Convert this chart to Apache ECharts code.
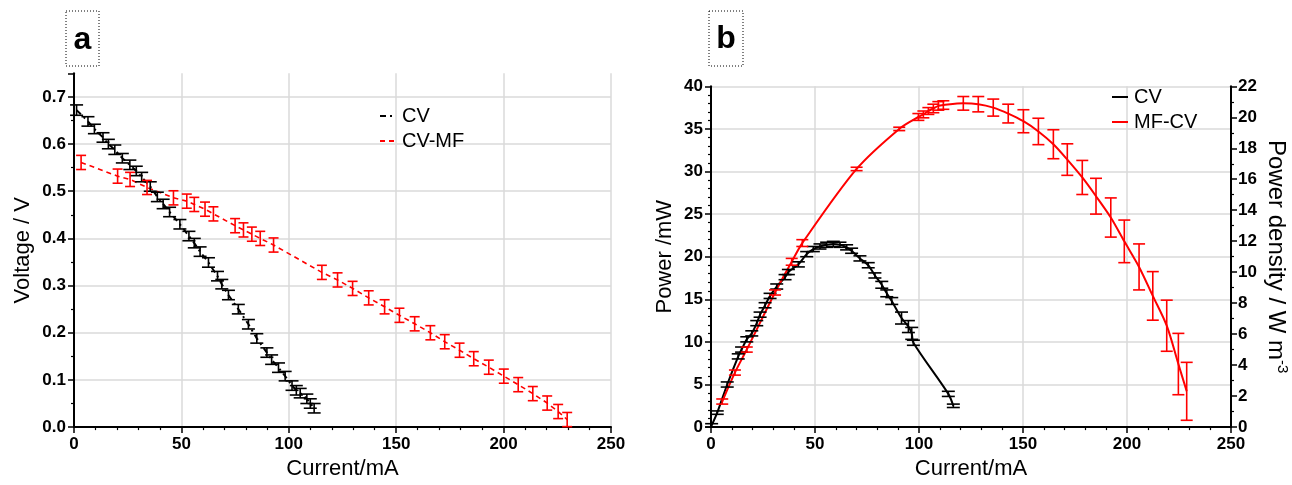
<!DOCTYPE html>
<html>
<head>
<meta charset="utf-8">
<script src="https://cdn.jsdelivr.net/npm/echarts@6/dist/echarts.min.js"></script>
<style>
  html, body { margin: 0; padding: 0; background: #fff; }
  #chart { width: 1292px; height: 485px; }
</style>
</head>
<body>
<div id="chart"></div>
<script>
// ---------- Panel a: Voltage vs Current ----------
const cvA_I = [1.2, 6.5, 9.5, 13.5, 16, 19, 22.5, 26, 29, 31.5, 35.5, 38.8, 41.5, 44.5, 49.3, 53.5, 56, 58.7, 62.6, 66.8, 68.8, 71.9, 76.5, 81.2, 85.1, 89.8, 92, 95.2, 98.3, 101.5, 103.5, 105.3, 108.4, 110, 111.8];
const cvA_V = [0.672, 0.648, 0.632, 0.614, 0.600, 0.588, 0.570, 0.556, 0.543, 0.530, 0.510, 0.488, 0.473, 0.456, 0.430, 0.405, 0.390, 0.372, 0.349, 0.320, 0.303, 0.280, 0.250, 0.218, 0.188, 0.158, 0.143, 0.126, 0.108, 0.088, 0.078, 0.072, 0.060, 0.050, 0.040];
const cvA_err = [0.011, 0.01, 0.01, 0.01, 0.01, 0.01, 0.01, 0.01, 0.01, 0.01, 0.01, 0.01, 0.01, 0.01, 0.01, 0.01, 0.01, 0.01, 0.01, 0.01, 0.01, 0.01, 0.01, 0.01, 0.01, 0.01, 0.01, 0.01, 0.01, 0.01, 0.01, 0.01, 0.01, 0.01, 0.01];

const mfA_I = [3.3, 20.3, 26.1, 34, 46.3, 52.5, 56, 61, 64.9, 75, 78.9, 82.8, 86.7, 92.9, 115.4, 122.7, 129.7, 137.2, 144.6, 151.5, 158.6, 165.9, 172.6, 179.5, 186.1, 193.1, 200.1, 206.8, 213.6, 220.3, 225.4, 229.6];
const mfA_V = [0.561, 0.532, 0.525, 0.508, 0.486, 0.479, 0.472, 0.462, 0.452, 0.427, 0.418, 0.409, 0.400, 0.386, 0.328, 0.312, 0.294, 0.274, 0.255, 0.237, 0.219, 0.200, 0.181, 0.163, 0.145, 0.127, 0.108, 0.090, 0.071, 0.051, 0.033, 0.016];
const mfA_err = [0.015, 0.015, 0.015, 0.015, 0.015, 0.015, 0.015, 0.015, 0.015, 0.015, 0.015, 0.015, 0.015, 0.015, 0.015, 0.015, 0.015, 0.015, 0.015, 0.015, 0.015, 0.015, 0.015, 0.015, 0.015, 0.015, 0.015, 0.015, 0.015, 0.015, 0.015, 0.015];

// ---------- Panel b: Power vs Current ----------
const cvB_I = [0.3, 3, 7.8, 13.1, 14.7, 17.2, 19.6, 22, 23.6, 26, 28.4, 31.6, 35.6, 37.2, 42, 46, 49.2, 52.4, 55.6, 58.8, 62, 65.2, 67.6, 71.6, 75.6, 78.8, 82.1, 84.5, 86.9, 91.6, 94.9, 96.5, 97.3, 114.1, 116.5];
const cvB_P = [0.2, 1.7, 5.0, 8.3, 9.1, 10.3, 11.0, 12.2, 13.2, 14.3, 15.4, 16.5, 17.6, 18.2, 19.1, 20.3, 20.9, 21.2, 21.4, 21.5, 21.4, 21.1, 20.7, 19.8, 19.0, 17.8, 16.7, 15.7, 14.8, 12.8, 11.8, 11.0, 9.9, 3.9, 2.5];
const cvB_err = [0.2, 0.2, 0.3, 0.3, 0.3, 0.3, 0.3, 0.3, 0.3, 0.3, 0.3, 0.3, 0.3, 0.3, 0.3, 0.3, 0.3, 0.3, 0.3, 0.3, 0.3, 0.3, 0.3, 0.3, 0.3, 0.3, 0.4, 0.4, 0.4, 0.7, 0.7, 0.7, 0.3, 0.3, 0.2];

const mfB_I = [5.4, 11.5, 17.2, 30.8, 38.8, 43.9, 70, 90.5, 99.7, 102.1, 104.5, 106.9, 109.3, 111.7, 121.3, 128.5, 135.7, 142.9, 150.2, 157.4, 164.6, 171.3, 178.5, 185.1, 192.2, 198.7, 205.8, 212.4, 219.1, 224.7, 228.7];
const mfB_P = [3.0, 6.4, 9.1, 15.8, 19.4, 21.6, 30.3, 35.0, 36.4, 36.7, 37.1, 37.4, 37.7, 37.8, 38.0, 37.9, 37.5, 36.8, 35.9, 34.7, 33.2, 31.4, 29.3, 27.1, 24.6, 21.8, 18.8, 15.4, 11.9, 7.4, 4.2];
const mfB_err = [0.3, 0.3, 0.3, 0.3, 0.4, 0.4, 0.2, 0.2, 0.4, 0.4, 0.4, 0.5, 0.5, 0.5, 0.8, 0.9, 1.0, 1.1, 1.35, 1.55, 1.7, 1.85, 2.0, 2.1, 2.3, 2.5, 2.7, 2.85, 3.0, 3.6, 3.4];

// tick ranges
const xTicks = { min: 0, max: 250, interval: 50 };
const yTicksA = { min: 0, max: 0.75, interval: 0.1 };
const yTicksB = { min: 0, max: 40, interval: 5 };
const yTicksB2 = { min: 0, max: 22, interval: 2 };

const FONT = 'Liberation Sans';
const zip2 = (a, b) => a.map((v, i) => [v, b[i]]);
const zip3 = (a, b, c) => a.map((v, i) => [v, b[i], c[i]]);

function errRenderer(color, cap, width) {
  return function (params, api) {
    const x = api.value(0), y = api.value(1), e = api.value(2);
    const hi = api.coord([x, y + e]);
    const lo = api.coord([x, y - e]);
    const style = { stroke: color, lineWidth: width };
    return {
      type: 'group',
      children: [
        { type: 'line', shape: { x1: hi[0], y1: hi[1], x2: lo[0], y2: lo[1] }, style },
        { type: 'line', shape: { x1: hi[0] - cap, y1: hi[1], x2: hi[0] + cap, y2: hi[1] }, style },
        { type: 'line', shape: { x1: lo[0] - cap, y1: lo[1], x2: lo[0] + cap, y2: lo[1] }, style }
      ]
    };
  };
}

const axisLineStyle = { show: true, onZero: false, lineStyle: { color: '#000', width: 2 } };
const tickStyle = { show: true, inside: false, length: 6, lineStyle: { color: '#000', width: 1.5 } };
const splitStyle = { show: true, lineStyle: { color: '#dadada', width: 1.5 } };
const labelStyle = { color: '#000', fontSize: 17, fontWeight: 'bold', fontFamily: FONT };
const nameStyle = { color: '#000', fontSize: 22, fontFamily: FONT };

function xAxisCfg(gridIndex, gap) {
  return {
    type: 'value', gridIndex, ...xTicks,
    axisLine: axisLineStyle,
    axisTick: tickStyle,
    minorTick: { show: true, splitNumber: 5, length: 3, lineStyle: { color: '#000', width: 1.2 } },
    splitLine: { ...splitStyle, showMinLine: false },
    axisLabel: { ...labelStyle, margin: 9 },
    name: 'Current/mA', nameLocation: 'middle', nameGap: gap, nameTextStyle: nameStyle
  };
}

const legendBase = {
  orient: 'vertical', itemWidth: 16, itemHeight: 10, itemGap: 5, padding: 0,
  selectedMode: false,
  itemStyle: { opacity: 0 },
  textStyle: { color: '#000', fontSize: 20, fontFamily: FONT, padding: [0, 0, 0, 1] }
};

const option = {
  backgroundColor: '#fff',
  animation: false,
  grid: [
    { left: 74, top: 73.3, width: 537, height: 354 },
    { left: 711, top: 86.3, width: 520, height: 343.7 }
  ],
  xAxis: [xAxisCfg(0, 26), xAxisCfg(1, 23)],
  yAxis: [
    {
      type: 'value', gridIndex: 0, ...yTicksA,
      axisLine: axisLineStyle, axisTick: tickStyle,
      minorTick: { show: true, splitNumber: 2, length: 3, lineStyle: { color: '#000', width: 1.2 } },
      splitLine: { ...splitStyle, showMinLine: false, showMaxLine: false },
      axisLabel: { ...labelStyle, margin: 8, showMaxLabel: false, formatter: v => v.toFixed(1) },
      name: 'Voltage / V', nameLocation: 'middle', nameGap: 40, nameTextStyle: nameStyle
    },
    {
      type: 'value', gridIndex: 1, ...yTicksB,
      axisLine: axisLineStyle, axisTick: tickStyle,
      minorTick: { show: true, splitNumber: 5, length: 3, lineStyle: { color: '#000', width: 1.2 } },
      splitLine: { ...splitStyle, showMinLine: false },
      axisLabel: { ...labelStyle, margin: 8 },
      name: 'Power /mW', nameLocation: 'middle', nameGap: 35, nameTextStyle: nameStyle
    },
    {
      type: 'value', gridIndex: 1, position: 'right', ...yTicksB2,
      axisLine: axisLineStyle, axisTick: tickStyle,
      minorTick: { show: true, splitNumber: 2, length: 3, lineStyle: { color: '#000', width: 1.2 } },
      splitLine: { show: false },
      axisLabel: { ...labelStyle, margin: 7 },
      name: '{m|Power density / W m}{s|-3}', nameLocation: 'middle', nameGap: 31, nameRotate: -90,
      nameTextStyle: {
        color: '#000', fontFamily: FONT,
        rich: {
          m: { fontSize: 24, fontFamily: FONT, color: '#000', lineHeight: 28 },
          s: { fontSize: 15, fontFamily: FONT, color: '#000', verticalAlign: 'top', lineHeight: 28, padding: [0, 0, 10, 0] }
        }
      }
    }
  ],
  legend: [
    Object.assign({}, legendBase, { left: 379, top: 106, data: ['CV', 'CV-MF'] }),
    Object.assign({}, legendBase, { left: 1111, top: 87, data: ['CV ', 'MF-CV'] })
  ],
  graphic: [
    { type: 'rect', shape: { x: 66, y: 11, width: 33, height: 55 }, style: { fill: 'none', stroke: '#000', lineWidth: 1, lineDash: [1, 2] } },
    { type: 'text', x: 82.5, y: 40, style: { text: 'a', fontSize: 32, fontWeight: 'bold', fontFamily: FONT, fill: '#000', textAlign: 'center', textVerticalAlign: 'middle' } },
    { type: 'rect', shape: { x: 709, y: 11, width: 34, height: 55 }, style: { fill: 'none', stroke: '#000', lineWidth: 1, lineDash: [1, 2] } },
    { type: 'text', x: 726, y: 39, style: { text: 'b', fontSize: 32, fontWeight: 'bold', fontFamily: FONT, fill: '#000', textAlign: 'center', textVerticalAlign: 'middle' } }
  ],
  series: [
    // panel a
    {
      name: 'CV', type: 'line', xAxisIndex: 0, yAxisIndex: 0, data: zip2(cvA_I, cvA_V),
      symbol: 'none', lineStyle: { color: '#000', width: 2, type: [6, 4, 2, 4] }, itemStyle: { color: '#000' }, z: 3
    },
    {
      type: 'custom', xAxisIndex: 0, yAxisIndex: 0, data: zip3(cvA_I, cvA_V, cvA_err),
      encode: { x: 0, y: 1 }, renderItem: errRenderer('#000', 6.5, 1.6), z: 4
    },
    {
      name: 'CV-MF', type: 'line', xAxisIndex: 0, yAxisIndex: 0, data: zip2(mfA_I, mfA_V),
      symbol: 'none', lineStyle: { color: '#ff0000', width: 1.6, type: [5, 4] }, itemStyle: { color: '#ff0000' }, z: 3
    },
    {
      type: 'custom', xAxisIndex: 0, yAxisIndex: 0, data: zip3(mfA_I, mfA_V, mfA_err),
      encode: { x: 0, y: 1 }, renderItem: errRenderer('#ff0000', 5, 1.6), z: 4
    },
    // panel b
    {
      name: 'CV ', type: 'line', xAxisIndex: 1, yAxisIndex: 1, data: zip2(cvB_I, cvB_P),
      symbol: 'none', smooth: 0.3, lineStyle: { color: '#000', width: 2 }, itemStyle: { color: '#000' }, z: 3
    },
    {
      type: 'custom', xAxisIndex: 1, yAxisIndex: 1, data: zip3(cvB_I, cvB_P, cvB_err),
      encode: { x: 0, y: 1 }, renderItem: errRenderer('#000', 6.5, 1.6), z: 4
    },
    {
      name: 'MF-CV', type: 'line', xAxisIndex: 1, yAxisIndex: 1, data: zip2(mfB_I, mfB_P),
      symbol: 'none', smooth: 0.3, lineStyle: { color: '#ff0000', width: 2 }, itemStyle: { color: '#ff0000' }, z: 3
    },
    {
      type: 'custom', xAxisIndex: 1, yAxisIndex: 1, data: zip3(mfB_I, mfB_P, mfB_err),
      encode: { x: 0, y: 1 }, renderItem: errRenderer('#ff0000', 6, 1.6), z: 4
    }
  ]
};

const chart = echarts.init(document.getElementById('chart'), null, { renderer: 'canvas' });
chart.setOption(option);
</script>
</body>
</html>
